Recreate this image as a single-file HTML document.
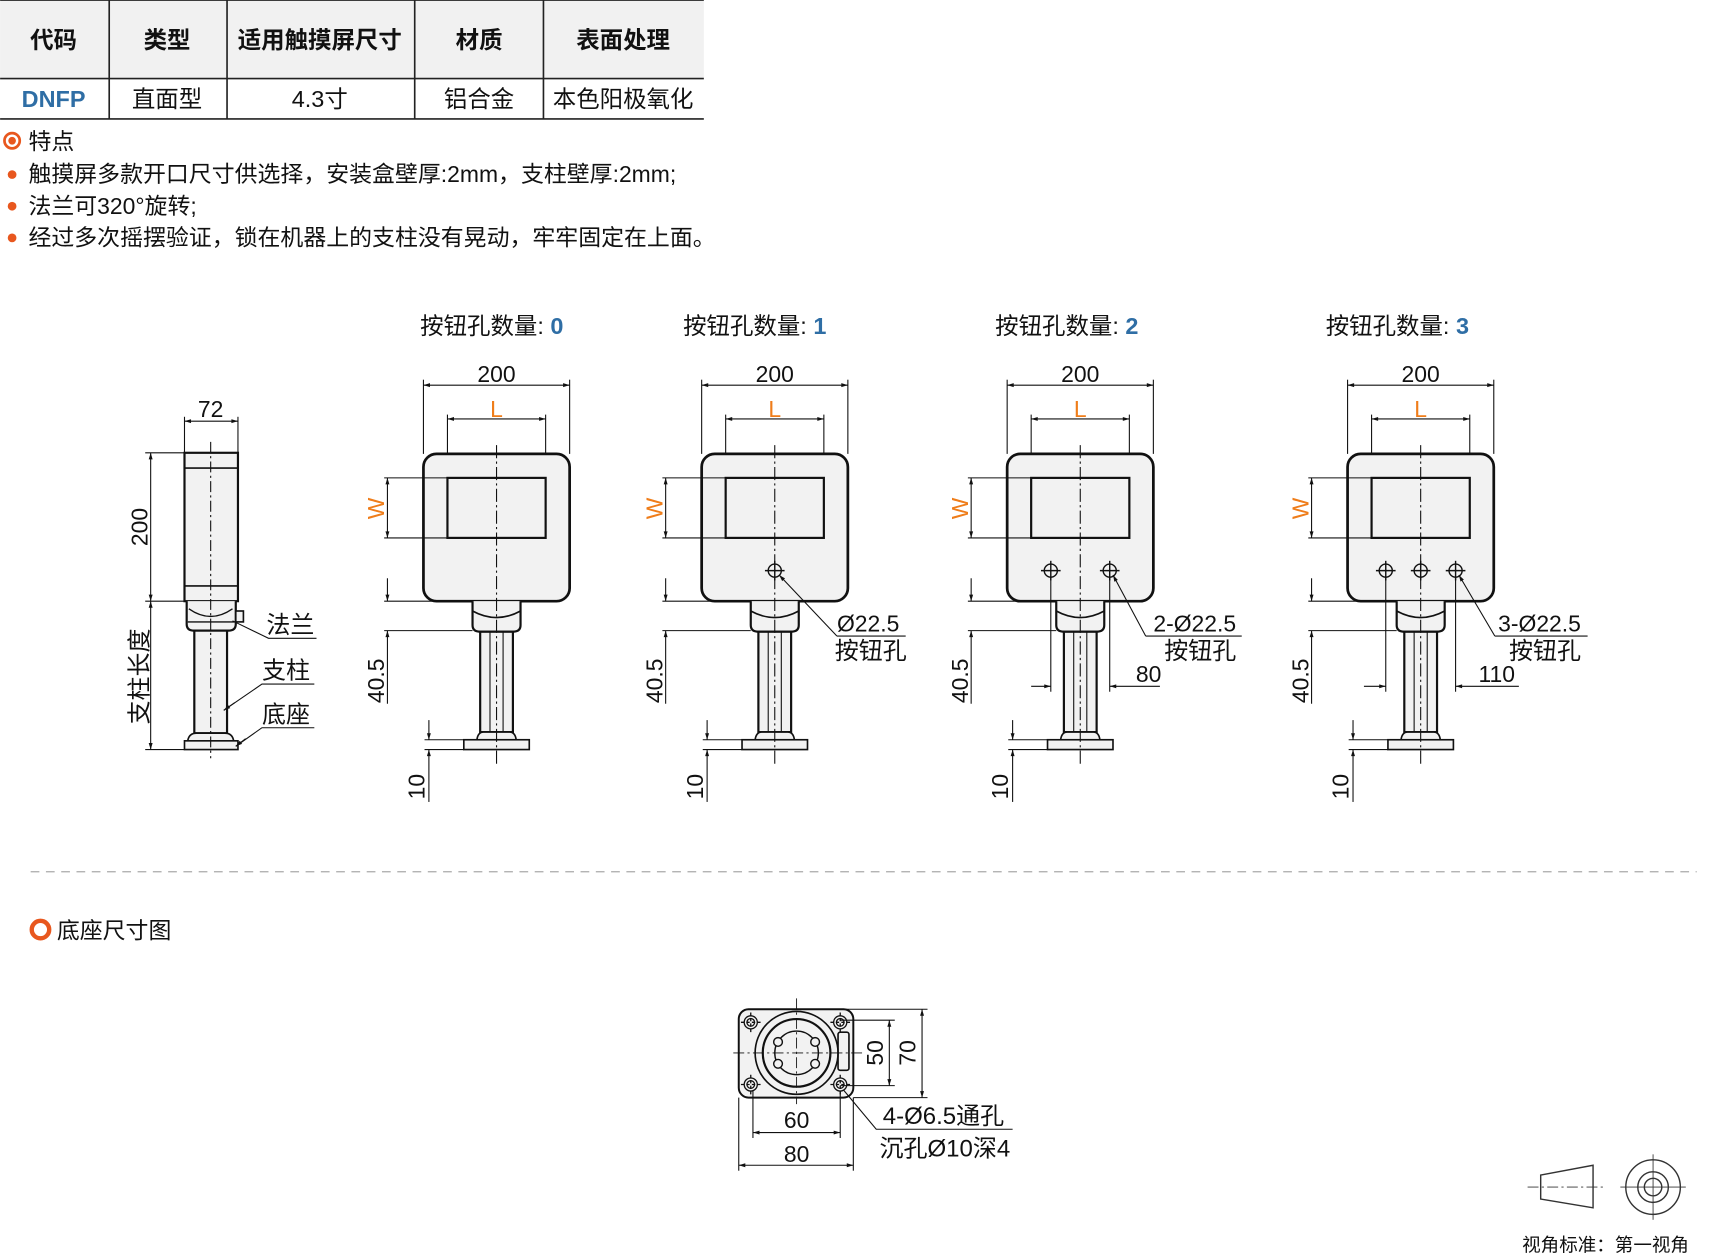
<!DOCTYPE html>
<html><head><meta charset="utf-8"><style>
html,body{margin:0;padding:0;background:#fff}
svg{display:block}
text{font-family:"Liberation Sans","Noto Sans CJK SC",sans-serif;fill:#111}
</style></head><body>
<svg width="1711" height="1258" viewBox="0 0 1568 1153" xmlns="http://www.w3.org/2000/svg">
<defs>
<marker id="a" viewBox="0 0 10 10" refX="10" refY="5" markerWidth="12" markerHeight="6" orient="auto-start-reverse" markerUnits="userSpaceOnUse"><path d="M0,2 L10,5 L0,8z" fill="#111"/></marker>
<g id="mod" stroke="#111" fill="none">
 <line x1="-67" y1="348" x2="-67" y2="416" stroke-width="1"/>
 <line x1="67" y1="348" x2="67" y2="416" stroke-width="1"/>
 <line x1="-67" y1="353" x2="67" y2="353" stroke-width="1" marker-start="url(#a)" marker-end="url(#a)"/>
 <line x1="-45" y1="380" x2="-45" y2="438" stroke-width="1"/>
 <line x1="45" y1="380" x2="45" y2="438" stroke-width="1"/>
 <line x1="-45" y1="384" x2="45" y2="384" stroke-width="1" marker-start="url(#a)" marker-end="url(#a)"/>
 <rect x="-67" y="416" width="134" height="135" rx="12" fill="#f2f2f2" stroke-width="2.5"/>
 <rect x="-45" y="438" width="90" height="55" stroke-width="2"/>
 <line x1="-103" y1="438" x2="-45" y2="438" stroke-width="1"/>
 <line x1="-103" y1="493" x2="-45" y2="493" stroke-width="1"/>
 <line x1="-100" y1="438" x2="-100" y2="493" stroke-width="1" marker-start="url(#a)" marker-end="url(#a)"/>
 <path d="M-22,551 V573 Q-22,579 -15,579 H15 Q22,579 22,573 V551" fill="#f2f2f2" stroke-width="2"/>
 <path d="M-22,560 Q0,572 22,560" stroke-width="1.5"/>
 <rect x="-15" y="579" width="30" height="92" fill="#f2f2f2" stroke-width="2"/>
 <line x1="-6" y1="579" x2="-6" y2="671" stroke-width="1"/>
 <line x1="6" y1="579" x2="6" y2="671" stroke-width="1"/>
 <path d="M-18,678 Q-17,671 -12,671 H12 Q17,671 18,678" fill="#f2f2f2" stroke-width="1.5"/>
 <rect x="-30" y="678" width="60" height="9" fill="#f2f2f2" stroke-width="1.5"/>
 <line x1="0" y1="408" x2="0" y2="700" stroke-width="1" stroke-dasharray="12,3,2,3"/>
 <line x1="-103" y1="551" x2="-22" y2="551" stroke-width="1"/>
 <line x1="-103" y1="578" x2="-22" y2="578" stroke-width="1"/>
 <line x1="-100" y1="530" x2="-100" y2="551" stroke-width="1" marker-end="url(#a)"/>
 <line x1="-100" y1="645" x2="-100" y2="578" stroke-width="1" marker-end="url(#a)"/>
 <line x1="-66" y1="678" x2="-30" y2="678" stroke-width="1"/>
 <line x1="-66" y1="687" x2="-30" y2="687" stroke-width="1"/>
 <line x1="-62" y1="660" x2="-62" y2="678" stroke-width="1" marker-end="url(#a)"/>
 <line x1="-62" y1="735" x2="-62" y2="687" stroke-width="1" marker-end="url(#a)"/>
</g>
<g id="hole" stroke="#111" fill="none" stroke-width="1.3"><circle r="6"/><line x1="-9" y1="0" x2="9" y2="0"/><line x1="0" y1="-9" x2="0" y2="9"/></g>
<g id="bh" stroke="#111" fill="none" stroke-width="1.2"><circle r="6"/><circle r="3.5"/><line x1="-9" y1="0" x2="9" y2="0" stroke-dasharray="3,2"/><line x1="0" y1="-9" x2="0" y2="9" stroke-dasharray="3,2"/></g>
</defs>

<!-- table -->
<rect x="0" y="0" width="645" height="72" fill="#f1f1f1"/>
<g stroke="#222" stroke-width="1.5">
<line x1="0" y1="72" x2="645" y2="72"/><line x1="0" y1="109" x2="645" y2="109"/><line x1="0" y1="0" x2="645" y2="0"/>
<line x1="100" y1="0" x2="100" y2="109"/><line x1="208" y1="0" x2="208" y2="109"/><line x1="380" y1="0" x2="380" y2="109"/><line x1="498" y1="0" x2="498" y2="109"/>
</g>
<g font-size="21.5" text-anchor="middle">
<text x="49" y="44" font-weight="bold">代码</text><text x="153" y="44" font-weight="bold">类型</text><text x="293" y="44" font-weight="bold">适用触摸屏尺寸</text><text x="439" y="44" font-weight="bold">材质</text><text x="571" y="44" font-weight="bold">表面处理</text>
<text x="49" y="98" font-weight="bold" style="fill:#2f6ea5">DNFP</text><text x="153" y="98">直面型</text><text x="293" y="98">4.3寸</text><text x="439" y="98">铝合金</text><text x="571" y="98">本色阳极氧化</text>
</g>

<!-- features -->
<circle cx="11" cy="129" r="7" fill="none" stroke="#e8571e" stroke-width="2.5"/><circle cx="11" cy="129" r="3.5" fill="#e8571e"/>
<g font-size="21">
<text x="26" y="137">特点</text>
<text x="26" y="167">触摸屏多款开口尺寸供选择，安装盒壁厚:2mm，支柱壁厚:2mm;</text>
<text x="26" y="196">法兰可320°旋转;</text>
<text x="26" y="225">经过多次摇摆验证，锁在机器上的支柱没有晃动，牢牢固定在上面。</text>
</g>
<circle cx="11" cy="160" r="4" fill="#e8571e"/><circle cx="11" cy="189" r="4" fill="#e8571e"/><circle cx="11" cy="218" r="4" fill="#e8571e"/>

<!-- side view -->
<g stroke="#111" fill="none">
<rect x="169" y="415" width="49" height="136" fill="#f2f2f2" stroke-width="2"/>
<line x1="169" y1="429" x2="218" y2="429" stroke-width="1.5"/><line x1="169" y1="537" x2="218" y2="537" stroke-width="1.5"/>
<path d="M171,551 V572 Q171,578 178,578 H209 Q216,578 216,572 V551" fill="#f2f2f2" stroke-width="2"/>
<path d="M173,558 Q193,572 213,558" stroke-width="1.2"/><line x1="172" y1="570" x2="215" y2="570" stroke-width="1.2"/>
<rect x="216" y="560" width="7" height="10" fill="#f2f2f2" stroke-width="1.5"/>
<rect x="178" y="578" width="30" height="94" fill="#f2f2f2" stroke-width="2"/>
<path d="M172,679 Q173,672 180,672 H206 Q213,672 214,679" fill="#f2f2f2" stroke-width="1.5"/>
<rect x="169" y="679" width="49" height="8" fill="#f2f2f2" stroke-width="1.5"/>
<line x1="193" y1="405" x2="193" y2="695" stroke-width="1" stroke-dasharray="10,3,2,3"/>
<line x1="169" y1="382" x2="169" y2="415" stroke-width="1"/><line x1="218" y1="382" x2="218" y2="415" stroke-width="1"/>
<line x1="169" y1="386" x2="218" y2="386" stroke-width="1" marker-start="url(#a)" marker-end="url(#a)"/>
<line x1="133" y1="415" x2="169" y2="415" stroke-width="1"/><line x1="133" y1="551" x2="169" y2="551" stroke-width="1"/><line x1="133" y1="687" x2="169" y2="687" stroke-width="1"/>
<line x1="138" y1="415" x2="138" y2="551" stroke-width="1" marker-start="url(#a)" marker-end="url(#a)"/>
<line x1="138" y1="551" x2="138" y2="687" stroke-width="1" marker-start="url(#a)" marker-end="url(#a)"/>
<polyline points="213,569 246,585 290,585" stroke-width="1"/>
<polyline points="288,627 240,627 205,651" stroke-width="1"/><line x1="215" y1="644" x2="205" y2="651" stroke-width="1" marker-end="url(#a)"/>
<polyline points="288,667 240,667 216,684" stroke-width="1"/><line x1="225" y1="677" x2="216" y2="684" stroke-width="1" marker-end="url(#a)"/>
</g>
<g font-size="21">
<text x="193" y="382" text-anchor="middle">72</text>
<text transform="translate(135,483) rotate(-90)" text-anchor="middle">200</text>
<text transform="translate(135,620) rotate(-90)" text-anchor="middle" font-size="22">支柱长度</text>
<text x="244" y="580" font-size="22">法兰</text><text x="240" y="622" font-size="22">支柱</text><text x="240" y="662" font-size="22">底座</text>
</g>

<!-- front modules -->
<use href="#mod" x="455"/><use href="#mod" x="710"/><use href="#mod" x="990"/><use href="#mod" x="1302"/>
<use href="#hole" x="710" y="523"/>
<use href="#hole" x="963" y="523"/><use href="#hole" x="1017" y="523"/>
<use href="#hole" x="1270" y="523"/><use href="#hole" x="1302" y="523"/><use href="#hole" x="1334" y="523"/>
<g stroke="#111" fill="none" stroke-width="1">
<polyline points="767,583 830,583"/><line x1="767" y1="583" x2="714" y2="527" marker-end="url(#a)"/>
<polyline points="1050,583 1138,583"/><line x1="1050" y1="583" x2="1020" y2="527" marker-end="url(#a)"/>
<polyline points="1370,583 1455,583"/><line x1="1370" y1="583" x2="1337" y2="527" marker-end="url(#a)"/>
<line x1="963" y1="529" x2="963" y2="634"/><line x1="1017" y1="529" x2="1017" y2="634"/>
<line x1="945" y1="629" x2="963" y2="629" marker-end="url(#a)"/><line x1="1063" y1="629" x2="1017" y2="629" marker-end="url(#a)"/>
<line x1="1270" y1="529" x2="1270" y2="634"/><line x1="1334" y1="529" x2="1334" y2="634"/>
<line x1="1250" y1="629" x2="1270" y2="629" marker-end="url(#a)"/><line x1="1392" y1="629" x2="1334" y2="629" marker-end="url(#a)"/>
</g>
<g font-size="21">
<text x="385" y="306" font-size="21.5">按钮孔数量: <tspan style="fill:#2f6ea5" font-weight="bold">0</tspan></text>
<text x="626" y="306" font-size="21.5">按钮孔数量: <tspan style="fill:#2f6ea5" font-weight="bold">1</tspan></text>
<text x="912" y="306" font-size="21.5">按钮孔数量: <tspan style="fill:#2f6ea5" font-weight="bold">2</tspan></text>
<text x="1215" y="306" font-size="21.5">按钮孔数量: <tspan style="fill:#2f6ea5" font-weight="bold">3</tspan></text>
<g text-anchor="middle">
<text x="455" y="350">200</text><text x="710" y="350">200</text><text x="990" y="350">200</text><text x="1302" y="350">200</text>
<text x="455" y="382" style="fill:#ef7d1a">L</text><text x="710" y="382" style="fill:#ef7d1a">L</text><text x="990" y="382" style="fill:#ef7d1a">L</text><text x="1302" y="382" style="fill:#ef7d1a">L</text>
<text transform="translate(352,466) rotate(-90)" style="fill:#ef7d1a">W</text><text transform="translate(607,466) rotate(-90)" style="fill:#ef7d1a">W</text><text transform="translate(887,466) rotate(-90)" style="fill:#ef7d1a">W</text><text transform="translate(1199,466) rotate(-90)" style="fill:#ef7d1a">W</text>
<text transform="translate(352,624) rotate(-90)">40.5</text><text transform="translate(607,624) rotate(-90)">40.5</text><text transform="translate(887,624) rotate(-90)">40.5</text><text transform="translate(1199,624) rotate(-90)">40.5</text>
<text transform="translate(389,721) rotate(-90)">10</text><text transform="translate(644,721) rotate(-90)">10</text><text transform="translate(924,721) rotate(-90)">10</text><text transform="translate(1236,721) rotate(-90)">10</text>
</g>
<text x="767" y="579">Ø22.5</text><text x="765" y="604" font-size="22">按钮孔</text>
<text x="1057" y="579">2-Ø22.5</text><text x="1067" y="604" font-size="22">按钮孔</text><text x="1041" y="625">80</text>
<text x="1373" y="579">3-Ø22.5</text><text x="1383" y="604" font-size="22">按钮孔</text><text x="1355" y="625">110</text>
</g>

<line x1="28" y1="799" x2="1555" y2="799" stroke="#aaa" stroke-width="1.2" stroke-dasharray="8,6"/>
<circle cx="37" cy="852" r="8" fill="none" stroke="#e8571e" stroke-width="4"/>
<text x="52" y="860" font-size="21">底座尺寸图</text>

<!-- base -->
<g stroke="#111" fill="none">
<rect x="677" y="925" width="105" height="81" rx="9" fill="#f2f2f2" stroke-width="1.8"/>
<circle cx="730" cy="965" r="38" stroke-width="1.5"/><circle cx="730" cy="965" r="31" stroke-width="2"/>
<circle cx="730" cy="965" r="20" stroke-width="1.3"/>
<circle cx="713" cy="955" r="4" fill="#f2f2f2" stroke-width="1.3"/><circle cx="747" cy="955" r="4" fill="#f2f2f2" stroke-width="1.3"/>
<circle cx="713" cy="975" r="4" fill="#f2f2f2" stroke-width="1.3"/><circle cx="747" cy="975" r="4" fill="#f2f2f2" stroke-width="1.3"/>
<rect x="768" y="946" width="10" height="35" rx="2" stroke-width="1.5"/>
<line x1="672" y1="965" x2="790" y2="965" stroke-width="0.8" stroke-dasharray="10,3,2,3"/>
<line x1="730" y1="915" x2="730" y2="1012" stroke-width="0.8" stroke-dasharray="10,3,2,3"/>
<line x1="760" y1="925" x2="850" y2="925" stroke-width="1"/><line x1="782" y1="1006" x2="850" y2="1006" stroke-width="1"/>
<line x1="770" y1="935" x2="820" y2="935" stroke-width="1"/><line x1="770" y1="995" x2="820" y2="995" stroke-width="1"/>
<line x1="845" y1="925" x2="845" y2="1006" stroke-width="1" marker-start="url(#a)" marker-end="url(#a)"/>
<line x1="815" y1="935" x2="815" y2="995" stroke-width="1" marker-start="url(#a)" marker-end="url(#a)"/>
<line x1="677" y1="1006" x2="677" y2="1073" stroke-width="1"/><line x1="782" y1="1006" x2="782" y2="1073" stroke-width="1"/>
<line x1="690" y1="1000" x2="690" y2="1043" stroke-width="1"/><line x1="770" y1="1000" x2="770" y2="1043" stroke-width="1"/>
<line x1="690" y1="1038" x2="770" y2="1038" stroke-width="1" marker-start="url(#a)" marker-end="url(#a)"/>
<line x1="677" y1="1068" x2="782" y2="1068" stroke-width="1" marker-start="url(#a)" marker-end="url(#a)"/>
<polyline points="928,1035 803,1035 773,999" stroke-width="1"/>
</g>
<use href="#bh" x="688" y="937"/><use href="#bh" x="770" y="937"/><use href="#bh" x="688" y="994"/><use href="#bh" x="770" y="994"/>
<g font-size="21">
<text transform="translate(809,965) rotate(-90)" text-anchor="middle">50</text>
<text transform="translate(839,965) rotate(-90)" text-anchor="middle">70</text>
<text x="730" y="1034" text-anchor="middle">60</text><text x="730" y="1065" text-anchor="middle">80</text>
<text x="809" y="1030" font-size="22">4-Ø6.5通孔</text><text x="806" y="1060" font-size="22">沉孔Ø10深4</text>
</g>

<!-- projection -->
<g stroke="#333" fill="none" stroke-width="1.3">
<path d="M1412,1077 L1460,1068 L1460,1107 L1412,1099 Z"/>
<line x1="1400" y1="1088" x2="1472" y2="1088" stroke-width="0.8" stroke-dasharray="10,3,2,3"/>
<circle cx="1515" cy="1088" r="25"/><circle cx="1515" cy="1088" r="14"/><circle cx="1515" cy="1088" r="8"/>
<line x1="1485" y1="1088" x2="1545" y2="1088" stroke-width="0.8"/><line x1="1515" y1="1058" x2="1515" y2="1118" stroke-width="0.8"/>
</g>
<text x="1395" y="1147" font-size="17">视角标准：第一视角</text>
</svg>
</body></html>
